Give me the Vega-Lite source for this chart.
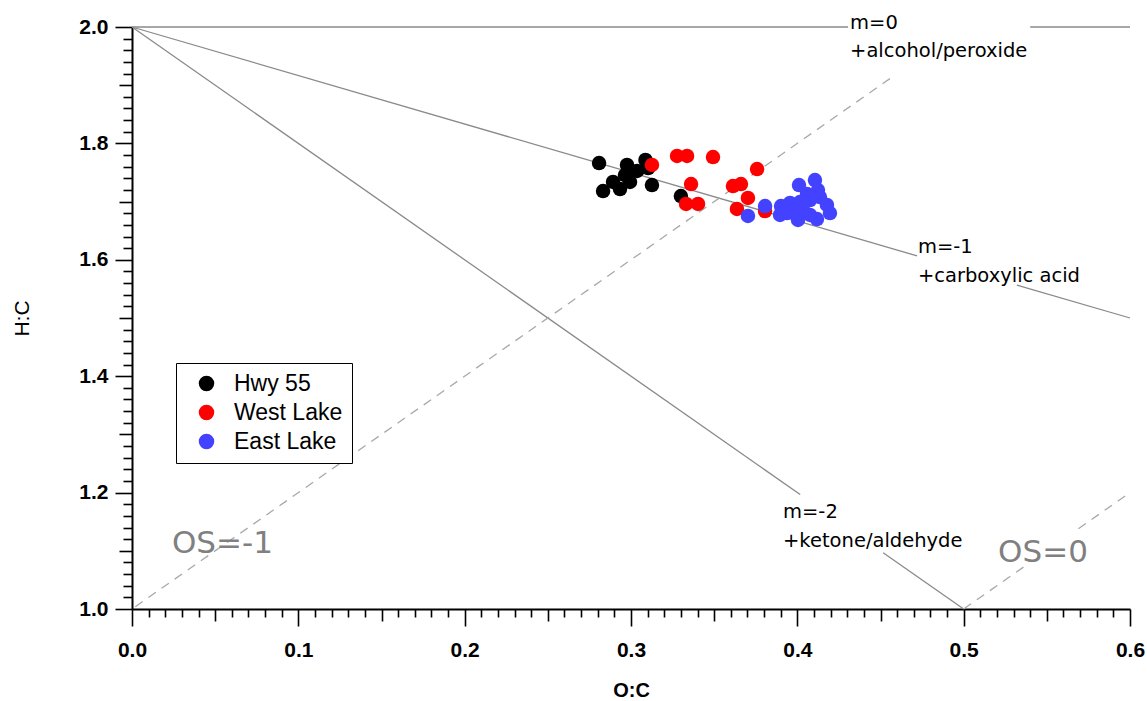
{
  "$schema": "https://vega.github.io/schema/vega-lite/v6.json",
  "width": 998,
  "height": 582,
  "autosize": "none",
  "padding": {"left": 132, "top": 27, "right": 17, "bottom": 92},
  "background": "white",
  "config": {
    "view": {"stroke": null},
    "axis": {"grid": false, "domainColor": "#000000", "domainWidth": 2, "tickColor": "#000000", "tickWidth": 1.6,
             "labelFont": "Liberation Sans", "labelFontWeight": "bold", "labelFontSize": 21, "labelColor": "#000000",
             "titleFont": "Liberation Sans", "titleColor": "#000000", "labelOverlap": false, "labelFlush": false, "labelBound": false}
  },
  "datasets": {
    "pts": [
      {"site": "Hwy 55", "oc": 0.2808, "hc": 1.7663},
      {"site": "Hwy 55", "oc": 0.2976, "hc": 1.7629},
      {"site": "Hwy 55", "oc": 0.3087, "hc": 1.7715},
      {"site": "Hwy 55", "oc": 0.3037, "hc": 1.7526},
      {"site": "Hwy 55", "oc": 0.2892, "hc": 1.7337},
      {"site": "Hwy 55", "oc": 0.2832, "hc": 1.7182},
      {"site": "Hwy 55", "oc": 0.2934, "hc": 1.7216},
      {"site": "Hwy 55", "oc": 0.2994, "hc": 1.7337},
      {"site": "Hwy 55", "oc": 0.3126, "hc": 1.7285},
      {"site": "Hwy 55", "oc": 0.3300, "hc": 1.7096},
      {"site": "Hwy 55", "oc": 0.2964, "hc": 1.7457},
      {"site": "Hwy 55", "oc": 0.3103, "hc": 1.7577},
      {"site": "West Lake", "oc": 0.3126, "hc": 1.7629},
      {"site": "West Lake", "oc": 0.3277, "hc": 1.7784},
      {"site": "West Lake", "oc": 0.3337, "hc": 1.7784},
      {"site": "West Lake", "oc": 0.3493, "hc": 1.7766},
      {"site": "West Lake", "oc": 0.3758, "hc": 1.7560},
      {"site": "West Lake", "oc": 0.3361, "hc": 1.7302},
      {"site": "West Lake", "oc": 0.3613, "hc": 1.7268},
      {"site": "West Lake", "oc": 0.3661, "hc": 1.7302},
      {"site": "West Lake", "oc": 0.3703, "hc": 1.7062},
      {"site": "West Lake", "oc": 0.3331, "hc": 1.6959},
      {"site": "West Lake", "oc": 0.3403, "hc": 1.6959},
      {"site": "West Lake", "oc": 0.3637, "hc": 1.6873},
      {"site": "West Lake", "oc": 0.3806, "hc": 1.6838},
      {"site": "East Lake", "oc": 0.3703, "hc": 1.6753},
      {"site": "East Lake", "oc": 0.3806, "hc": 1.6924},
      {"site": "East Lake", "oc": 0.3902, "hc": 1.6924},
      {"site": "East Lake", "oc": 0.3956, "hc": 1.6976},
      {"site": "East Lake", "oc": 0.4016, "hc": 1.6993},
      {"site": "East Lake", "oc": 0.4076, "hc": 1.7027},
      {"site": "East Lake", "oc": 0.4136, "hc": 1.7079},
      {"site": "East Lake", "oc": 0.4178, "hc": 1.6942},
      {"site": "East Lake", "oc": 0.4196, "hc": 1.6804},
      {"site": "East Lake", "oc": 0.4010, "hc": 1.7285},
      {"site": "East Lake", "oc": 0.4106, "hc": 1.7371},
      {"site": "East Lake", "oc": 0.4058, "hc": 1.7131},
      {"site": "East Lake", "oc": 0.4124, "hc": 1.7199},
      {"site": "East Lake", "oc": 0.3938, "hc": 1.6804},
      {"site": "East Lake", "oc": 0.3998, "hc": 1.6787},
      {"site": "East Lake", "oc": 0.4076, "hc": 1.6770},
      {"site": "East Lake", "oc": 0.4118, "hc": 1.6701},
      {"site": "East Lake", "oc": 0.4004, "hc": 1.6684},
      {"site": "East Lake", "oc": 0.3896, "hc": 1.6770},
      {"site": "East Lake", "oc": 0.4034, "hc": 1.6856}
    ],
    "solid": [
      {"seg": "m0a", "oc": 0, "hc": 2},
      {"seg": "m0a", "oc": 0.4305, "hc": 2},
      {"seg": "m0b", "oc": 0.54, "hc": 2},
      {"seg": "m0b", "oc": 0.6, "hc": 2},
      {"seg": "m1a", "oc": 0, "hc": 2},
      {"seg": "m1a", "oc": 0.472, "hc": 1.6067},
      {"seg": "m1b", "oc": 0.532, "hc": 1.5567},
      {"seg": "m1b", "oc": 0.6, "hc": 1.5},
      {"seg": "m2a", "oc": 0, "hc": 2},
      {"seg": "m2a", "oc": 0.4017, "hc": 1.1966},
      {"seg": "m2b", "oc": 0.4516, "hc": 1.0968},
      {"seg": "m2b", "oc": 0.5, "hc": 1.0}
    ],
    "dashed": [
      {"seg": "os1", "oc": 0.002, "hc": 1.004},
      {"seg": "os1", "oc": 0.458, "hc": 1.916},
      {"seg": "os0a", "oc": 0.5, "hc": 1.0},
      {"seg": "os0a", "oc": 0.538, "hc": 1.076},
      {"seg": "os0b", "oc": 0.569, "hc": 1.138},
      {"seg": "os0b", "oc": 0.6, "hc": 1.2}
    ],
    "slopeText": [
      {"label": "m=0", "oc": 0.4317, "hc": 1.9966},
      {"label": "+alcohol/peroxide", "oc": 0.4317, "hc": 1.9485},
      {"label": "m=-1", "oc": 0.4725, "hc": 1.6117},
      {"label": "+carboxylic acid", "oc": 0.4725, "hc": 1.5619},
      {"label": "m=-2", "oc": 0.3914, "hc": 1.1564},
      {"label": "+ketone/aldehyde", "oc": 0.3914, "hc": 1.1065}
    ],
    "osText": [
      {"label": "OS=-1", "oc": 0.024, "hc": 1.0962},
      {"label": "OS=0", "oc": 0.5207, "hc": 1.0808}
    ]
  },
  "encoding": {
    "x": {"field": "oc", "type": "quantitative",
      "scale": {"domain": [0, 0.6], "nice": false, "zero": false},
      "axis": {
        "title": "O:C", "titleFontSize": 20, "titleFontWeight": "bold", "titleX": 499, "titleY": 81, "titleBaseline": "middle", "titleAlign": "center",
        "values": [0,0.01,0.02,0.03,0.04,0.05,0.06,0.07,0.08,0.09,0.1,0.11,0.12,0.13,0.14,0.15,0.16,0.17,0.18,0.19,0.2,0.21,0.22,0.23,0.24,0.25,0.26,0.27,0.28,0.29,0.3,0.31,0.32,0.33,0.34,0.35,0.36,0.37,0.38,0.39,0.4,0.41,0.42,0.43,0.44,0.45,0.46,0.47,0.48,0.49,0.5,0.51,0.52,0.53,0.54,0.55,0.56,0.57,0.58,0.59,0.6],
        "labelExpr": "abs(datum.value*10 - round(datum.value*10)) < 0.001 ? format(datum.value, '.1f') : ''",
        "labelFontSize": 21, "labelFontWeight": "bold",
        "tickSize": {"condition": [
          {"test": "abs(datum.value*10 - round(datum.value*10)) < 0.001", "value": 17},
          {"test": "abs(datum.value*20 - round(datum.value*20)) < 0.001", "value": 12}
        ], "value": 8},
        "labelPadding": 13
      }
    },
    "y": {"field": "hc", "type": "quantitative",
      "scale": {"domain": [1, 2], "nice": false, "zero": false},
      "axis": {
        "title": "H:C", "titleFontSize": 21, "titleFontWeight": "normal", "titleX": -104, "titleY": 291, "titleBaseline": "alphabetic", "titleAlign": "center", "titleAngle": -90,
        "values": [1,1.02,1.04,1.06,1.08,1.1,1.12,1.14,1.16,1.18,1.2,1.22,1.24,1.26,1.28,1.3,1.32,1.34,1.36,1.38,1.4,1.42,1.44,1.46,1.48,1.5,1.52,1.54,1.56,1.58,1.6,1.62,1.64,1.66,1.68,1.7,1.72,1.74,1.76,1.78,1.8,1.82,1.84,1.86,1.88,1.9,1.92,1.94,1.96,1.98,2],
        "labelExpr": "abs(datum.value*5 - round(datum.value*5)) < 0.001 ? format(datum.value, '.1f') : ''",
        "labelFontSize": 21, "labelFontWeight": "bold",
        "tickSize": {"condition": [
          {"test": "abs(datum.value*5 - round(datum.value*5)) < 0.001", "value": 17},
          {"test": "abs(datum.value*10 - round(datum.value*10)) < 0.001", "value": 13}
        ], "value": 9},
        "labelPadding": 7
      }
    }
  },
  "layer": [
    {
      "data": {"name": "solid"},
      "mark": {"type": "line", "color": "#8a8a8a", "strokeWidth": 1.3},
      "encoding": {"detail": {"field": "seg", "type": "nominal"}}
    },
    {
      "data": {"name": "dashed"},
      "mark": {"type": "line", "color": "#a8a8a8", "strokeWidth": 1.3, "strokeDash": [9, 7]},
      "encoding": {"detail": {"field": "seg", "type": "nominal"}}
    },
    {
      "data": {"name": "pts"},
      "mark": {"type": "point", "filled": true, "opacity": 1, "size": 210, "shape": "circle"},
      "encoding": {
        "color": {"field": "site", "type": "nominal",
          "scale": {"domain": ["Hwy 55", "West Lake", "East Lake"], "range": ["#000000", "#ff0000", "#4242ff"]},
          "legend": {"title": null, "orient": "none", "legendX": 44, "legendY": 336,
            "fillColor": "white", "strokeColor": "#000000", "padding": 9, "symbolSize": 240, "symbolType": "circle",
            "labelFont": "Liberation Sans", "labelFontSize": 23, "labelColor": "#000000", "rowPadding": 5,
            "symbolOffset": 10, "labelOffset": 16, "cornerRadius": 0, "symbolStrokeWidth": 0}
        }
      }
    },
    {
      "data": {"name": "slopeText"},
      "mark": {"type": "text", "align": "left", "baseline": "alphabetic", "font": "DejaVu Sans", "fontSize": 19.5, "color": "#000000"},
      "encoding": {"text": {"field": "label", "type": "nominal"}}
    },
    {
      "data": {"name": "osText"},
      "mark": {"type": "text", "align": "left", "baseline": "alphabetic", "font": "DejaVu Sans", "fontSize": 31, "color": "#808080"},
      "encoding": {"text": {"field": "label", "type": "nominal"}}
    }
  ]
}
